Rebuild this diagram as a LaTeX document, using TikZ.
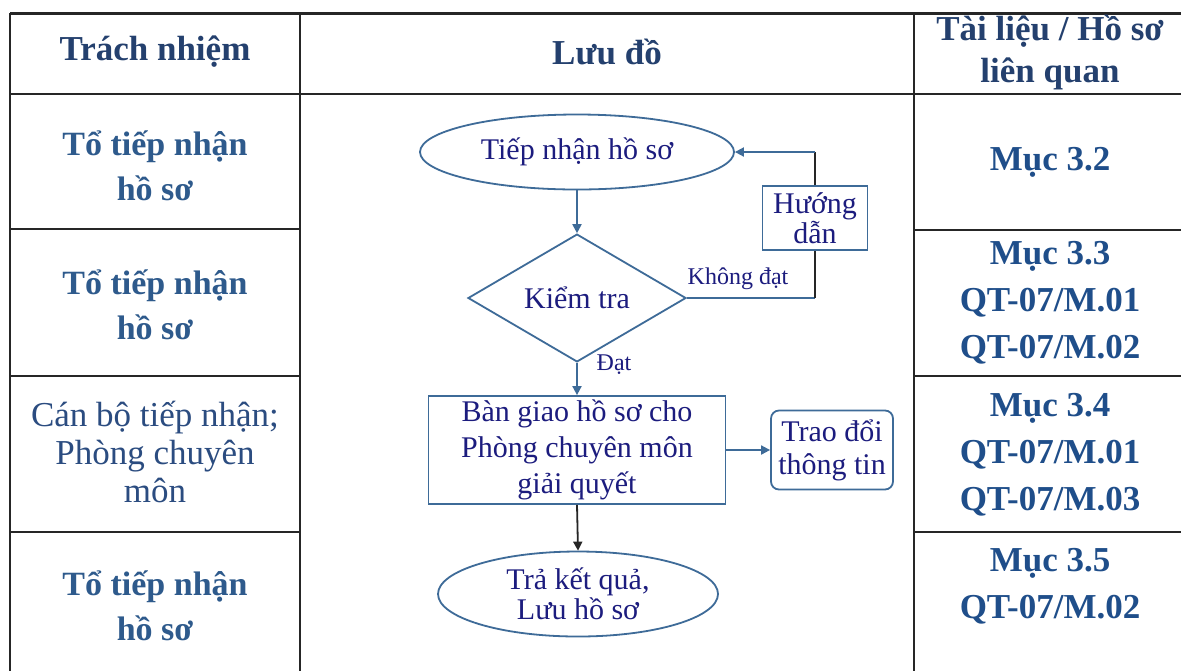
\documentclass[tikz,border=0pt]{standalone}
\usepackage{fontspec}
\setmainfont{Liberation Serif}
\usetikzlibrary{shapes.geometric,arrows.meta}
\definecolor{hdr}{HTML}{24406E}
\definecolor{colone}{HTML}{2E5A8C}
\definecolor{colreg}{HTML}{2B4C80}
\definecolor{colthree}{HTML}{1F4E8A}
\definecolor{flowtxt}{HTML}{1C1C7E}
\definecolor{shp}{HTML}{3E6B98}
\begin{document}
\begin{tikzpicture}[x=0.5pt,y=-0.5pt,
  grid/.style={line width=1.2pt, draw=black!85},
  hdrtxt/.style={text=hdr, font=\fontsize{17.5}{21}\selectfont\bfseries, align=center, inner sep=0},
  onetxt/.style={text=colone, font=\fontsize{17}{22.5}\selectfont\bfseries, align=center, inner sep=0},
  onereg/.style={text=colreg, font=\fontsize{17.5}{19}\selectfont, align=center, inner sep=0},
  threetxt/.style={text=colthree, font=\fontsize{17.5}{23.5}\selectfont\bfseries, align=center, inner sep=0},
  flow/.style={draw=shp, line width=0.9pt, text=flowtxt, align=center, inner sep=0},
  flowfont/.style={font=\fontsize{15}{15}\selectfont},
  lbl/.style={text=flowtxt, font=\fontsize{12}{12}\selectfont, inner sep=0},
  conn/.style={draw=shp, line width=0.9pt},
  connk/.style={draw=black!85, line width=0.9pt},
  tip/.style={-{Triangle[length=4.5pt,width=4.5pt]}}
]
\useasboundingbox (0,0) rectangle (1181,671);
\fill[white] (0,0) rectangle (1181,671);

% table grid
\draw[grid, line width=1.5pt] (10,13) -- (1181,13);
\draw[grid] (10,94) -- (1181,94);
\draw[grid] (10,13) -- (10,671);
\draw[grid] (300,13) -- (300,671);
\draw[grid] (914,13) -- (914,671);
\draw[grid] (10,229) -- (300,229);
\draw[grid] (914,230) -- (1181,230);
\draw[grid] (10,376) -- (300,376);
\draw[grid] (914,376) -- (1181,376);
\draw[grid] (10,532) -- (300,532);
\draw[grid] (914,532) -- (1181,532);

% headers
\node[hdrtxt] (h1) at (155,52) {Trách nhiệm};
\node[hdrtxt] (h2) at (607,52) {Lưu đồ};
\node[hdrtxt] (h3) at (1050,52) {Tài liệu / Hồ sơ\\liên quan};

% column 1
\node[onetxt] (r1) at (155,166) {Tổ tiếp nhận\\hồ sơ};
\node[onetxt] (r2) at (155,305) {Tổ tiếp nhận\\hồ sơ};
\node[onereg] (r3) at (155,452) {Cán bộ tiếp nhận;\\Phòng chuyên\\môn};
\node[onetxt] (r4) at (155,606) {Tổ tiếp nhận\\hồ sơ};

% column 3
\node[threetxt] (d1) at (1050,162) {Mục 3.2};
\node[threetxt] (d2) at (1050,303) {Mục 3.3\\QT-07/M.01\\QT-07/M.02};
\node[threetxt] (d3) at (1050,455) {Mục 3.4\\QT-07/M.01\\QT-07/M.03};
\node[threetxt] (d4) at (1050,586) {Mục 3.5\\QT-07/M.02};

% flowchart
\node[flow, flowfont, ellipse, minimum width=157pt, minimum height=37.5pt] (e1) at (577,152) {Tiếp nhận hồ sơ};
\node[flow, flowfont, diamond, minimum width=109pt, minimum height=46.5pt] (dk) at (577,298) {Kiểm tra};
\node[flow, flowfont, rectangle, minimum width=52.5pt, minimum height=32pt] (hd) at (815,218) {Hướng\\dẫn};
\node[flow, rectangle, minimum width=148.5pt, minimum height=54pt, font=\fontsize{15}{18}\selectfont] (bg) at (577,450) {Bàn giao hồ sơ cho\\Phòng chuyên môn\\giải quyết};
\node[flow, rectangle, rounded corners=4pt, minimum width=61pt, minimum height=39.5pt, font=\fontsize{15}{16.5}\selectfont] (td) at (832,450) {Trao đổi\\thông tin};
\node[flow, ellipse, minimum width=140pt, minimum height=42.5pt, font=\fontsize{15}{15}\selectfont] (e2) at (578,594) {Trả kết quả,\\Lưu hồ sơ};

\coordinate (c1) at (hd.south |- dk.east);
\coordinate (c2) at (hd.north |- e1.east);

\draw[conn, tip] (e1.south) -- (dk.north);
\draw[conn] (dk.east) -- (c1);
\draw[connk] (c1) -- (hd.south);
\draw[connk] (hd.north) -- (c2);
\draw[conn, tip] (c2) -- (e1.east);
\draw[conn, tip] (dk.south) -- (bg.north);
\draw[conn, tip] (bg.east) -- (td.west);
\draw[connk, tip] (bg.south) -- (e2.north);

\node[lbl] (kd) at (738,279) {Không đạt};
\node[lbl] (dat) at (614,365) {Đạt};
\end{tikzpicture}
\end{document}
